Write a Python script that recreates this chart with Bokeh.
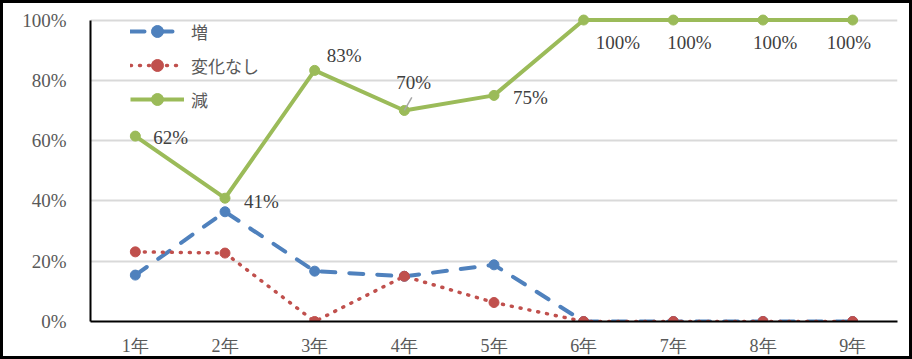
from bokeh.plotting import figure
from bokeh.models import (ColumnDataSource, Range1d, FixedTicker, NumeralTickFormatter,
                          Legend, LegendItem)
from bokeh.core.properties import value
from bokeh.embed import file_html
from bokeh.resources import INLINE
import math

# ---- data ----
grades = ["1年", "2年", "3年", "4年", "5年", "6年", "7年", "8年", "9年"]
zou = [0.154, 0.364, 0.167, 0.15, 0.188, 0.0, 0.0, 0.0, 0.0]          # 増
henka_nashi = [0.231, 0.227, 0.0, 0.15, 0.063, 0.0, 0.0, 0.0, 0.0]   # 変化なし
gen = [0.615, 0.409, 0.833, 0.70, 0.75, 1.0, 1.0, 1.0, 1.0]          # 減
series_names = ["増", "変化なし", "減"]
y_ticks = [0, 0.2, 0.4, 0.6, 0.8, 1.0]

# label placement (screen px offsets from each point)
label_dx = [18, 19, 12, -8, 19, 12, -6, -10, -26]
label_dy = [1, 3, -15, -28, 2, 22, 22, 22, 22]

SERIF = "Liberation Serif"
BLUE, RED, GREEN = "#4F81BD", "#C0504D", "#9BBB59"

p = figure(x_range=grades, y_range=Range1d(0, 1.025), width=912, height=359,
           output_backend="svg", toolbar_location=None,
           min_border_left=87, min_border_right=18, min_border_top=9, min_border_bottom=41)
p.styles = {"border": "3px solid black"}
p.outline_line_color = None
p.background_fill_color = "white"
p.border_fill_color = "white"
p.x_range.range_padding = 0

src = ColumnDataSource(dict(x=grades, zou=zou, henka=henka_nashi, gen=gen,
                            lab=[f"{round(v * 100)}%" for v in gen],
                            dx=label_dx, dy=label_dy))

l1 = p.line("x", "zou", source=src, line_color=BLUE, line_width=4, line_dash="14 14", line_cap="round")
m1 = p.scatter("x", "zou", source=src, size=10, color=BLUE)
l2 = p.line("x", "henka", source=src, line_color=RED, line_width=3.5, line_dash="1 8", line_cap="round")
m2 = p.scatter("x", "henka", source=src, size=10, color=RED)
l3 = p.line("x", "gen", source=src, line_color=GREEN, line_width=4)
m3 = p.scatter("x", "gen", source=src, size=10, color=GREEN)

# leader line for the 4年 label
p.ray(x=[grades[3]], y=[gen[3]], length=15, length_units="screen", angle=math.radians(60),
      line_color="#A6A6A6", line_width=1.5)

p.text("x", "gen", text="lab", source=src, x_offset="dx", y_offset="dy",
       text_font=value(SERIF), text_font_size="19px", text_color="#404040",
       text_align="left", text_baseline="middle")

# axes
for ax in (p.xaxis[0], p.yaxis[0]):
    ax.axis_line_color = "black"
    ax.axis_line_width = 2
    ax.major_tick_line_color = None
    ax.minor_tick_line_color = None
    ax.major_label_text_font = SERIF
    ax.major_label_text_font_size = "19px"
    ax.major_label_text_color = "#595959"

p.xaxis.major_label_text_font_size = "18px"
p.yaxis.ticker = FixedTicker(ticks=y_ticks)
p.yaxis.formatter = NumeralTickFormatter(format="0%")
p.yaxis.bounds = (0, 1)
p.yaxis.major_label_standoff = 18
p.xaxis.major_label_standoff = 8

p.xgrid.grid_line_color = None
p.ygrid.grid_line_color = "#D9D9D9"
p.ygrid.grid_line_width = 2
p.ygrid.bounds = (0, 1)

legend = Legend(items=[LegendItem(label=series_names[0], renderers=[l1, m1]),
                       LegendItem(label=series_names[1], renderers=[l2, m2]),
                       LegendItem(label=series_names[2], renderers=[l3, m3])],
                location=(40, 207), padding=0, margin=0, spacing=4,
                glyph_width=54, glyph_height=30, label_height=30, label_standoff=7,
                label_text_font="Noto Sans CJK JP", label_text_font_size="17px",
                label_text_color="#595959", border_line_color=None,
                background_fill_alpha=0)
p.add_layout(legend, "center")

open("out.html", "w").write(file_html(p, INLINE))
